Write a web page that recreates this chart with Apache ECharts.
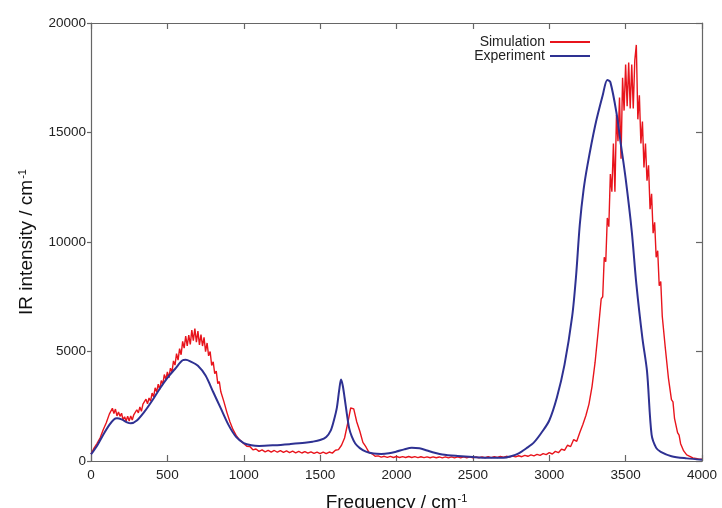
<!DOCTYPE html>
<html>
<head>
<meta charset="utf-8">
<script src="https://cdn.jsdelivr.net/npm/echarts@6/dist/echarts.min.js"></script>
<style>html,body{margin:0;padding:0;background:#fff;}#c{width:722px;height:508px;}</style>
</head>
<body>
<div id="c"></div>
<script>
// Axis ticks
const xTicks = [0, 500, 1000, 1500, 2000, 2500, 3000, 3500, 4000];
const yTicks = [0, 5000, 10000, 15000, 20000];

// Simulation (noisy) – frequency grid and intensity
const simFreq = [
0,10,20,30,40,50,60,70,80,90,100,110,120,130,140,150,160,170,180,190,
200,210,220,230,240,250,260,270,280,290,300,310,320,330,340,350,360,370,380,390,
400,410,420,430,440,450,460,470,480,490,500,510,520,530,540,550,560,570,580,590,
600,610,620,630,640,650,660,670,680,690,700,710,720,730,740,750,760,770,780,790,
800,810,820,830,840,850,860,870,880,890,900,910,920,930,940,950,960,970,980,990,1000,
1020,1040,1060,1080,1100,1120,1140,1160,1180,1200,1220,1240,1260,1280,1300,1320,1340,1360,1380,
1400,1420,1440,1460,1480,1500,1520,1540,1560,1580,1600,1620,1640,1660,1680,1700,1720,1740,1760,1780,
1800,1820,1840,1860,1880,1900,1920,1940,1960,1980,2000,2020,2040,2060,2080,2100,2120,2140,2160,2180,
2200,2220,2240,2260,2280,2300,2320,2340,2360,2380,2400,2420,2440,2460,2480,2500,2520,2540,2560,2580,
2600,2620,2640,2660,2680,2700,2720,2740,2760,2780,2800,2820,2840,2860,2880,2900,2920,2940,2960,2980,
3000,3020,3040,3060,3080,3100,3120,3140,3160,3180,
3200,3210,3220,3230,3240,3250,3260,3270,3280,3290,3300,3310,3320,3330,3340,3350,3360,3370,3380,3390,
3400,3410,3420,3430,3440,3450,3460,3470,3480,3490,3500,3510,3520,3530,3540,3550,3560,3570,3580,3590,
3600,3610,3620,3630,3640,3650,3660,3670,3680,3690,3700,3710,3720,3730,3740,3750,3760,3770,3780,3790,
3800,3810,3820,3830,3840,3850,3860,3870,3880,3890,3900,
3920,3940,3960,3980,4000];
const simIntensity = [
320,340,590,560,810,770,1060,1030,1430,1430,1750,1710,2140,2060,2410,2170,2370,2060,2240,2040,
2180,1880,2020,1830,2050,1830,2060,1870,2110,2020,2340,2200,2470,2270,2600,2510,2820,2610,2880,2730,
3100,2930,3340,3160,3510,3270,3670,3510,3950,3720,4070,3800,4240,4060,4570,4380,4900,4610,5130,4850,
5460,5150,5700,5260,5750,5320,5980,5500,6050,5430,5930,5300,5770,5250,5650,4990,5390,4800,5000,4360,
4530,3990,4100,3530,3630,3160,3210,2710,2720,2210,2200,1780,1760,1430,1440,1170,1210,990,1060,860,890,
670,660,510,550,440,510,420,490,410,480,400,470,395,460,385,450,375,440,365,
430,355,420,345,410,335,405,335,410,360,490,520,720,1050,1700,2420,2380,1780,1360,850,
640,390,330,215,235,175,215,165,210,160,205,160,200,160,205,160,200,155,195,155,
190,150,190,150,185,145,185,145,185,145,185,145,185,145,185,145,185,150,190,150,
195,155,200,160,205,170,215,180,230,190,240,195,255,215,280,235,300,255,335,290,
380,320,440,380,540,490,720,660,980,900,
1300,1270,1670,1580,2080,2000,2600,2550,3400,3400,4500,4550,5900,5900,7400,7500,9300,9100,11100,10700,
13100,12300,14500,12300,15800,14600,16600,13800,17500,16000,18100,16200,18200,16100,18100,16100,18300,19000,15600,16700,
14500,15500,13400,14500,12800,13500,11500,12200,10400,10900,9300,9600,8000,8200,6600,6600,5150,5100,3800,3750,
2800,2700,1950,1870,1300,1180,790,700,460,410,280,
215,140,120,85,80];

// Experiment (smooth)
const expFreq = [0,40,80,120,150,170,200,240,260,300,350,400,450,500,550,600,620,650,700,750,
800,850,900,950,1000,1050,1100,1200,1300,1400,1450,1500,1540,1570,1590,1610,1625,1637,1648,1660,
1675,1690,1707,1730,1760,1800,1850,1900,1950,2000,2050,2100,2150,2200,2250,2300,2400,2500,2600,2700,
2750,2800,2850,2900,2950,3000,3050,3100,3150,3175,3200,3225,3250,3300,3350,3380,3400,3440,3470,3500,
3540,3570,3610,3640,3670,3700,3730,3800,3900,4000];
const expIntensity = [300,700,1200,1650,1900,1950,1900,1750,1720,1850,2250,2750,3300,3800,4200,4600,4620,4550,4350,3900,
3150,2400,1650,1100,820,720,690,720,770,830,880,960,1100,1400,1850,2450,3250,3720,3450,2900,
2150,1500,1120,800,590,430,340,320,350,430,530,600,580,480,380,300,230,180,150,150,
220,350,580,850,1300,1850,2900,4400,6600,8400,10800,12400,13500,15300,16700,17400,17300,15900,14400,12900,
10500,8100,5600,4100,1200,600,420,220,120,60];

const seriesNames = ['Simulation', 'Experiment'];
const seriesColors = ['#e8141c', '#2e3192'];

function pairs(xs, ys) { return xs.map((x, i) => [x, ys[i]]); }

const chart = echarts.init(document.getElementById('c'), null, {renderer: 'canvas'});
const font = 'Liberation Sans, Arial, sans-serif';
const axisLineStyle = {color: '#666', width: 1.2};
const nameStyle = {fontFamily: font, color: '#111', rich: {
  n: {fontSize: 19, fontFamily: font, color: '#111'},
  s: {fontSize: 11, fontFamily: font, color: '#111', verticalAlign: 'top', padding: [0, 0, 0, 1]}
}};
chart.setOption({
  animation: false,
  backgroundColor: '#fff',
  grid: {left: 91, right: 20, top: 23, bottom: 47, containLabel: false, outerBoundsMode: 'none'},
  legend: {
    orient: 'vertical', right: 127, top: 30, align: 'right',
    icon: 'rect', itemWidth: 40, itemHeight: 2, itemGap: 0,
    textStyle: {fontSize: 14, color: '#222', fontFamily: font, lineHeight: 14},
    data: seriesNames
  },
  xAxis: [{
    type: 'value', min: xTicks[0], max: xTicks[xTicks.length - 1], interval: 500,
    name: '{n|Frequency / cm}{s|-1}', nameLocation: 'middle', nameGap: 32, nameTextStyle: nameStyle,
    axisLine: {onZero: false, lineStyle: axisLineStyle}, axisTick: {inside: true, length: 6, lineStyle: axisLineStyle},
    axisLabel: {fontSize: 13.5, color: '#222', fontFamily: font, margin: 7, formatter: v => String(v)},
    splitLine: {show: false}
  }, {
    type: 'value', position: 'top', min: xTicks[0], max: xTicks[xTicks.length - 1], interval: 500,
    axisLine: {show: true, onZero: false, lineStyle: axisLineStyle}, axisTick: {show: true, inside: true, length: 6, lineStyle: axisLineStyle},
    axisLabel: {show: false}, splitLine: {show: false}
  }],
  yAxis: [{
    type: 'value', min: yTicks[0], max: yTicks[yTicks.length - 1], interval: 5000,
    name: '{n|IR intensity / cm}{s|-1}', nameLocation: 'middle', nameRotate: 90, nameGap: 55, nameTextStyle: nameStyle,
    axisLine: {show: true, onZero: false, lineStyle: axisLineStyle}, axisTick: {show: true, inside: false, length: 4, lineStyle: axisLineStyle},
    axisLabel: {fontSize: 13.5, color: '#222', fontFamily: font, margin: 5, formatter: v => String(v)},
    splitLine: {show: false}
  }, {
    type: 'value', position: 'right', min: yTicks[0], max: yTicks[yTicks.length - 1], interval: 5000,
    axisLine: {show: true, onZero: false, lineStyle: axisLineStyle}, axisTick: {show: true, inside: true, length: 6, lineStyle: axisLineStyle},
    axisLabel: {show: false}, splitLine: {show: false}
  }],
  series: [{
    name: seriesNames[0], type: 'line', symbol: 'none', xAxisIndex: 0, yAxisIndex: 0,
    data: pairs(simFreq, simIntensity),
    lineStyle: {color: seriesColors[0], width: 1.4}, itemStyle: {color: seriesColors[0]}
  }, {
    name: seriesNames[1], type: 'line', symbol: 'none', smooth: 0.3, xAxisIndex: 0, yAxisIndex: 0,
    data: pairs(expFreq, expIntensity),
    lineStyle: {color: seriesColors[1], width: 2}, itemStyle: {color: seriesColors[1]}
  }]
});
</script>
</body>
</html>
